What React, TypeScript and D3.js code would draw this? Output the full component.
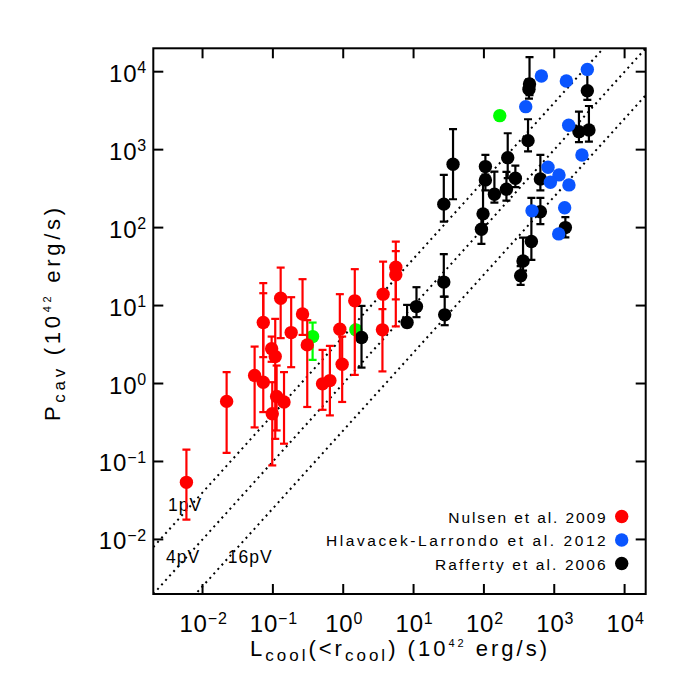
import React from "react";
import * as d3 from "d3";

// ---------- data ----------
const tickExps = [-2, -1, 0, 1, 2, 3, 4];

// Nulsen et al. 2009 (red)
const nulsenL = [0.0059, 0.022, 0.055, 0.073, 0.073, 0.129, 0.096, 0.108, 0.098, 0.113, 0.144, 0.182, 0.264, 0.308, 0.508, 0.646, 0.895, 0.966, 1.46, 3.69, 3.61, 5.59, 5.59];
const nulsenP = [0.054, 0.59, 1.27, 6.05, 1.04, 12.4, 2.79, 2.22, 0.41, 0.68, 0.58, 4.5, 7.8, 3.13, 0.99, 1.09, 4.98, 1.77, 11.5, 14.0, 4.88, 31, 24.8];
const nulsenLo = [0.0179, 0.129, 0.273, 2.18, 0.43, 3.82, 1.9, 0.195, 0.089, 0.25, 0.169, 1.62, 4.2, 0.5, 0.46, 0.39, 1.8, 0.58, 1.29, 5.0, 1.43, 12, 5.4];
const nulsenHi = [0.142, 1.4, 2.98, 19.4, 14.4, 30.7, 4.0, 6.75, 1.04, 1.7, 1.4, 12.8, 21.8, 6.5, 2.7, 3.04, 14.0, 4.0, 29.3, 36.6, 9.0, 66, 50];

// Hlavacek-Larrondo et al. 2012 (blue)
const hlavL = [393, 656, 1486, 2953, 1603, 815, 1167, 881, 1618, 2477, 483, 1406, 1156];
const hlavP = [3560, 8810, 7600, 10700, 2055, 595, 474, 382, 353, 855, 164, 180, 83];

// Rafferty et al. 2006 (black)
const raffL = [1.82, 8.09, 11.0, 26.9, 27.7, 26.9, 36.4, 105, 105, 97.2, 92.2, 141, 218, 209, 280, 424, 437, 445, 635, 635, 473, 360, 333, 1439, 2244, 3110, 2953];
const raffP = [3.89, 6.05, 9.7, 20, 7.6, 200, 650, 606, 409, 150, 95.4, 268, 789, 311, 430, 1305, 5950, 6950, 421, 160, 66.2, 37.4, 24.2, 100, 1702, 1790, 5710];
const raffLo = [1.6, 5.3, 7.1, 13, 5.6, 119, 231, 480, 300, 110, 61.8, 209, 430, 222, 330, 950, 4500, 5000, 300, 111, 38.5, 28, 18.4, 75, 1250, 1267, 4340];
const raffHi = [9.9, 10.2, 17.2, 45.6, 13, 474, 1830, 855, 560, 409, 150, 522, 1623, 520, 624, 2453, 8000, 15400, 855, 240, 240, 74.5, 32, 136, 3070, 3630, 10000];

// other objects (green)
const greenL = [0.367, 1.51, 168];
const greenP = [4.0, 4.88, 2729];
const greenLo = [2.01, NaN, NaN];
const greenHi = [6.05, NaN, NaN];

// pV reference lines: P = k * L
const pvFactors = [4, 1, 0.25];
const pvLabels = ["1pV", "4pV", "16pV"];

const legendNames = ["Nulsen et al. 2009", "Hlavacek-Larrondo et al. 2012", "Rafferty et al. 2006"];
const legendColors = ["#ff0000", "#0a55ff", "#000000"];

// ---------- layout ----------
const W = 692, H = 692;
const left = 153.3, right = 645.7, top = 48.3, bottom = 594;
const FONT = "'Liberation Sans', Arial, Helvetica, sans-serif";
const lo = Math.pow(10, -2.7), hi = Math.pow(10, 4.3);
const legendWidths = [157.4, 279.7, 170.7];

const x = d3.scaleLog().domain([lo, hi]).range([left, right]);
const y = d3.scaleLog().domain([lo, hi]).range([bottom, top]);

function ErrBar({ cx, ylo, yhi, color }: { cx: number; ylo: number; yhi: number; color: string }) {
  const cap = 4;
  return (
    <g stroke={color} strokeWidth={2.2}>
      <line x1={cx} x2={cx} y1={ylo} y2={yhi} />
      <line x1={cx - cap} x2={cx + cap} y1={ylo} y2={ylo} />
      <line x1={cx - cap} x2={cx + cap} y1={yhi} y2={yhi} />
    </g>
  );
}

function Series({ L, P, Lo, Hi, color }: { L: number[]; P: number[]; Lo?: number[]; Hi?: number[]; color: string }) {
  return (
    <g>
      {L.map((l, i) =>
        Lo && Hi && !isNaN(Lo[i]) ? (
          <ErrBar key={"e" + i} cx={x(l)} ylo={y(Lo[i])} yhi={y(Hi[i])} color={color} />
        ) : null
      )}
      {L.map((l, i) => (
        <circle key={"c" + i} cx={x(l)} cy={y(P[i])} r={6.7} fill={color} />
      ))}
    </g>
  );
}

export default function App() {
  const pvLabelPos = [
    { l: Math.pow(10, -2.49), p: Math.pow(10, -1.63) },
    { l: Math.pow(10, -2.52), p: Math.pow(10, -2.3) },
    { l: Math.pow(10, -1.64), p: Math.pow(10, -2.3) },
  ];
  return (
    <svg width={W} height={H} style={{ position: "absolute", left: 0, top: 0, background: "#fff" }}>
      <defs>
        <clipPath id="plotclip">
          <rect x={left} y={top} width={right - left} height={bottom - top} />
        </clipPath>
      </defs>

      {/* pV lines */}
      <g clipPath="url(#plotclip)">
        {pvFactors.map((k, i) => (
          <line
            key={i}
            x1={x(lo)}
            y1={y(lo * k)}
            x2={x(hi)}
            y2={y(hi * k)}
            stroke="#000"
            strokeWidth={2}
            strokeDasharray="2 4"
          />
        ))}
      </g>

      {pvLabels.map((t, i) => (
        <text
          key={t}
          x={x(pvLabelPos[i].l)}
          y={y(pvLabelPos[i].p)}
          fontFamily={FONT}
          fontSize={17.5}
          letterSpacing={1}
          fill="#000"
        >
          {t}
        </text>
      ))}

      {/* data */}
      <g clipPath="url(#plotclip)">
        <Series L={greenL} P={greenP} Lo={greenLo} Hi={greenHi} color="#00ff00" />
        <Series L={raffL} P={raffP} Lo={raffLo} Hi={raffHi} color="#000000" />
        <Series L={hlavL} P={hlavP} color="#0a55ff" />
        <Series L={nulsenL} P={nulsenP} Lo={nulsenLo} Hi={nulsenHi} color="#ff0000" />
      </g>

      {/* frame */}
      <rect x={left} y={top} width={right - left} height={bottom - top} fill="none" stroke="#000" strokeWidth={2} />

      {/* ticks */}
      <g stroke="#000" strokeWidth={2}>
        {tickExps.map((e) => {
          const v = Math.pow(10, e);
          return (
            <g key={e}>
              <line x1={x(v)} x2={x(v)} y1={bottom} y2={bottom - 10} />
              <line x1={x(v)} x2={x(v)} y1={top} y2={top + 10} />
              <line x1={left} x2={left + 10} y1={y(v)} y2={y(v)} />
              <line x1={right} x2={right - 10} y1={y(v)} y2={y(v)} />
            </g>
          );
        })}
      </g>

      {/* tick labels */}
      {tickExps.map((e) => {
        const v = Math.pow(10, e);
        const sup = e < 0 ? "\u2212" + Math.abs(e) : String(e);
        return (
          <g key={"tl" + e} fontFamily={FONT} fill="#000">
            <text x={x(v) + 1} y={632} textAnchor="middle" fontSize={24} letterSpacing={0.8}>
              10
              <tspan fontSize={16} dy={-8}>{sup}</tspan>
            </text>
            <text x={147} y={y(v) + 10} textAnchor="end" fontSize={24} letterSpacing={0.8}>
              10
              <tspan fontSize={16} dy={-8.5}>{sup}</tspan>
            </text>
          </g>
        );
      })}

      {/* axis titles */}
      <text
        x={250}
        y={656}
        textLength={297}
        lengthAdjust="spacing"
        fontFamily={FONT}
        fontSize={22}
        fill="#000"
      >
        L
        <tspan fontSize={17} dy={5}>cool</tspan>
        <tspan dy={-5}>(&lt;r</tspan>
        <tspan fontSize={17} dy={5}>cool</tspan>
        <tspan dy={-5}>)  (10</tspan>
        <tspan fontSize={11} dy={-9}>42</tspan>
        <tspan dy={9}> erg/s)</tspan>
      </text>
      <text
        transform="translate(60,421) rotate(-90)"
        textLength={213}
        lengthAdjust="spacing"
        fontFamily={FONT}
        fontSize={22}
        fill="#000"
      >
        P
        <tspan fontSize={17} dy={5}>cav</tspan>
        <tspan dy={-5}>  (10</tspan>
        <tspan fontSize={11} dy={-9}>42</tspan>
        <tspan dy={9}> erg/s)</tspan>
      </text>

      {/* legend */}
      {legendNames.map((n, i) => (
        <g key={n}>
          <text
            x={605.7 - legendWidths[i]}
            y={522.7 + i * 23.7}
            textLength={legendWidths[i]}
            lengthAdjust="spacing"
            fontFamily={FONT}
            fontSize={15.5}
            fill="#000"
          >
            {n}
          </text>
          <circle cx={621.7} cy={516.5 + i * 23.5} r={6.7} fill={legendColors[i]} />
        </g>
      ))}
    </svg>
  );
}
